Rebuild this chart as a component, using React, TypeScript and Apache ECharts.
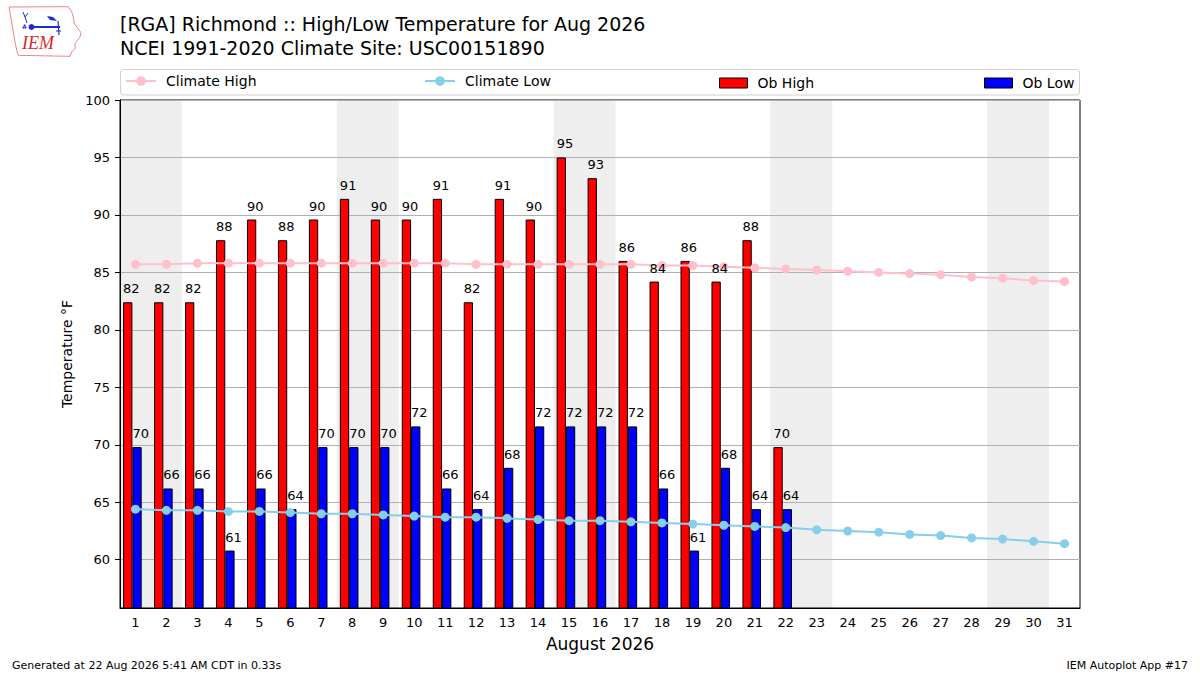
import { useEffect, useRef } from 'react';
import * as echarts from 'echarts';

const FONT = '"DejaVu Sans", sans-serif';

const dayLabels = [
  '1', '2', '3', '4', '5', '6', '7', '8', '9', '10', '11', '12', '13', '14', '15', '16',
  '17', '18', '19', '20', '21', '22', '23', '24', '25', '26', '27', '28', '29', '30', '31',
];

// observed values (whole degrees C converted to F), only through the 22nd
const obHigh = [
  82.4, 82.4, 82.4, 87.8, 89.6, 87.8, 89.6, 91.4, 89.6, 89.6, 91.4,
  82.4, 91.4, 89.6, 95.0, 93.2, 86.0, 84.2, 86.0, 84.2, 87.8, 69.8,
];
const obLow = [
  69.8, 66.2, 66.2, 60.8, 66.2, 64.4, 69.8, 69.8, 69.8, 71.6, 66.2,
  64.4, 68.0, 71.6, 71.6, 71.6, 71.6, 66.2, 60.8, 68.0, 64.4, 64.4,
];

const climateHigh = [
  85.7, 85.7, 85.8, 85.8, 85.8, 85.8, 85.8, 85.8, 85.8, 85.8, 85.8,
  85.7, 85.7, 85.7, 85.7, 85.7, 85.7, 85.6, 85.6, 85.5, 85.4, 85.3,
  85.2, 85.1, 85.0, 84.9, 84.8, 84.6, 84.5, 84.3, 84.2,
];
const climateLow = [
  64.4, 64.3, 64.3, 64.2, 64.2, 64.1, 64.0, 64.0, 63.9, 63.8, 63.7,
  63.7, 63.6, 63.5, 63.4, 63.4, 63.3, 63.2, 63.1, 63.0, 62.9, 62.8,
  62.6, 62.5, 62.4, 62.2, 62.1, 61.9, 61.8, 61.6, 61.4,
];

// weekend (Sat, Sun) day pairs
const weekends = [
  [1, 2],
  [8, 9],
  [15, 16],
  [22, 23],
  [29, 30],
];

const yTicks = [60, 65, 70, 75, 80, 85, 90, 95, 100];
const Y_MIN = 55.8;
const Y_MAX = 100;

const IOWA =
  'M9 7 L68.3 6.7 L71.7 12 L73.3 17 L74.3 23.7 L78 28.7 L81 32.7 L80 37 L76.7 41.3 L75 43.7 L75 48.7 L71.7 52 L70 56.3 L18.3 55.3 L16.7 50.3 L15 42 L13.3 32 L11 18.7 Z';

export default function App() {
  const chartRef = useRef<HTMLDivElement>(null);

  useEffect(() => {
    if (!chartRef.current) return;
    echarts.graphic.registerShape('iowa', echarts.graphic.extendPath(IOWA, {}));
    const chart = echarts.init(chartRef.current, null, { renderer: 'svg' });

    const pad = (arr: number[]) => dayLabels.map((_, i) => (i < arr.length ? arr[i] : null));

    const barLabel = {
      show: true,
      position: [0, -7],
      align: 'left',
      verticalAlign: 'bottom',
      color: '#000',
      fontSize: 13,
      fontFamily: FONT,
      formatter: (p: any) => String(Math.round(p.value)),
    };

    const legendBase = {
      padding: 0,
      itemGap: 0,
      selectedMode: false,
      textStyle: { fontSize: 14, color: '#000', fontFamily: FONT, padding: [0, 0, 0, 5] },
    };

    // the bars sit a little left of the day ticks, so they get their own grid
    const barGrid = { left: 116.9, right: 123.1, top: 100, bottom: 67 };

    const option = {
      animation: false,
      backgroundColor: '#fff',
      textStyle: { fontFamily: FONT },
      title: {
        left: 120,
        top: 12,
        text: '[RGA] Richmond :: High/Low Temperature for Aug 2026\nNCEI 1991-2020 Climate Site: USC00151890',
        textStyle: { fontSize: 19, fontWeight: 'normal', color: '#000', lineHeight: 24, fontFamily: FONT },
        padding: 0,
      },
      legend: [
        { ...legendBase, top: 74, left: 125, data: ['Climate High'], itemWidth: 30, itemHeight: 12 },
        { ...legendBase, top: 74, left: 424, data: ['Climate Low'], itemWidth: 30, itemHeight: 12 },
        {
          ...legendBase, top: 76, left: 719, data: ['Ob High'], itemWidth: 28, itemHeight: 10, icon: 'rect',
          itemStyle: { borderColor: '#000', borderWidth: 1 },
        },
        {
          ...legendBase, top: 76, left: 984, data: ['Ob Low'], itemWidth: 28, itemHeight: 10, icon: 'rect',
          itemStyle: { borderColor: '#000', borderWidth: 1 },
        },
      ],
      grid: [
        { left: 120, right: 120, top: 100, bottom: 67, show: true, borderColor: '#000', borderWidth: 1, backgroundColor: 'transparent' },
        barGrid,
        barGrid,
      ],
      xAxis: [
        {
          type: 'category',
          gridIndex: 0,
          data: dayLabels,
          boundaryGap: true,
          name: 'August 2026',
          nameLocation: 'middle',
          nameGap: 27,
          nameTextStyle: { fontSize: 17, color: '#000', fontFamily: FONT },
          axisLine: { lineStyle: { color: '#000', width: 1 } },
          axisTick: { alignWithLabel: true, interval: 0, length: 5, lineStyle: { color: '#000' } },
          axisLabel: { interval: 0, margin: 8, fontSize: 13, color: '#000', fontFamily: FONT },
          splitLine: { show: false },
        },
        { type: 'value', gridIndex: 0, min: 0.5, max: 31.5, show: false },
        { type: 'category', gridIndex: 1, data: dayLabels, show: false },
        { type: 'category', gridIndex: 2, data: dayLabels, show: false },
      ],
      yAxis: [
        {
          type: 'value',
          gridIndex: 0,
          min: Y_MIN,
          max: Y_MAX,
          name: 'Temperature °F',
          nameLocation: 'middle',
          nameGap: 41,
          nameTextStyle: { fontSize: 14, color: '#000', fontFamily: FONT },
          axisLine: { show: true, lineStyle: { color: '#000', width: 1 } },
          axisTick: { show: true, length: 5, customValues: yTicks, lineStyle: { color: '#000' } },
          axisLabel: { customValues: yTicks, margin: 10, fontSize: 13, color: '#000', fontFamily: FONT },
          splitLine: { show: true, lineStyle: { color: '#b0b0b0', width: 1 } },
        },
        { type: 'value', gridIndex: 1, min: Y_MIN, max: Y_MAX, show: false, splitLine: { show: false } },
        { type: 'value', gridIndex: 2, min: Y_MIN, max: Y_MAX, show: false, splitLine: { show: false } },
      ],
      series: [
        {
          name: 'weekend',
          type: 'custom',
          xAxisIndex: 1,
          yAxisIndex: 0,
          z: -1,
          silent: true,
          data: weekends,
          renderItem: (params: any, api: any) => {
            const x0 = api.coord([api.value(0) - 0.5, Y_MAX])[0];
            const x1 = api.coord([api.value(1) + 0.5, Y_MAX])[0];
            const cs = params.coordSys;
            return {
              type: 'rect',
              shape: { x: x0, y: cs.y, width: x1 - x0, height: cs.height },
              style: { fill: '#eeeeee' },
            };
          },
        },
        {
          name: 'Ob High',
          type: 'bar',
          xAxisIndex: 2,
          yAxisIndex: 1,
          data: pad(obHigh),
          barWidth: 9.3,
          barGap: '0%',
          itemStyle: { color: '#ff0000', borderColor: '#000', borderWidth: 1 },
        },
        {
          name: 'Ob Low',
          type: 'bar',
          xAxisIndex: 2,
          yAxisIndex: 1,
          data: pad(obLow),
          barWidth: 9.3,
          barGap: '0%',
          itemStyle: { color: '#0000ff', borderColor: '#000', borderWidth: 1 },
        },
        {
          name: 'Climate High',
          type: 'line',
          xAxisIndex: 0,
          yAxisIndex: 0,
          z: 3,
          data: climateHigh,
          symbol: 'circle',
          symbolSize: 9,
          lineStyle: { color: '#ffc0cb', width: 2 },
          itemStyle: { color: '#ffc0cb' },
        },
        {
          name: 'Climate Low',
          type: 'line',
          xAxisIndex: 0,
          yAxisIndex: 0,
          z: 3,
          data: climateLow,
          symbol: 'circle',
          symbolSize: 9,
          lineStyle: { color: '#87ceeb', width: 2 },
          itemStyle: { color: '#87ceeb' },
        },
        // value labels drawn above the climate lines
        {
          name: 'Ob High label',
          type: 'bar',
          xAxisIndex: 3,
          yAxisIndex: 2,
          z: 5,
          silent: true,
          data: pad(obHigh),
          barWidth: 9.3,
          barGap: '0%',
          itemStyle: { color: 'transparent', borderWidth: 0 },
          label: barLabel,
        },
        {
          name: 'Ob Low label',
          type: 'bar',
          xAxisIndex: 3,
          yAxisIndex: 2,
          z: 5,
          silent: true,
          data: pad(obLow),
          barWidth: 9.3,
          barGap: '0%',
          itemStyle: { color: 'transparent', borderWidth: 0 },
          label: barLabel,
        },
      ],
      graphic: [
        {
          type: 'rect',
          z: -2,
          shape: { x: 120.5, y: 69.5, width: 959, height: 25.5, r: 3 },
          style: { fill: '#fff', stroke: '#d0d0d0', lineWidth: 1 },
        },
        // IEM logo
        { type: 'iowa', x: 0, y: 0, style: { fill: 'none', stroke: '#e87878', lineWidth: 0.9 } },
        { type: 'line', shape: { x1: 30, y1: 27, x2: 60, y2: 27 }, style: { stroke: '#1e2ad6', lineWidth: 2 } },
        { type: 'circle', shape: { cx: 31.5, cy: 27, r: 3 }, style: { fill: '#1e2ad6' } },
        { type: 'polyline', shape: { points: [[23, 12], [25, 17], [28, 13]] }, style: { stroke: '#1e2ad6', lineWidth: 1, fill: 'none' } },
        { type: 'line', shape: { x1: 25, y1: 17, x2: 27, y2: 23 }, style: { stroke: '#1e2ad6', lineWidth: 1 } },
        { type: 'circle', shape: { cx: 25.5, cy: 27.5, r: 1 }, style: { fill: '#1e2ad6' } },
        { type: 'circle', shape: { cx: 23.5, cy: 27.5, r: 1 }, style: { fill: '#1e2ad6' } },
        { type: 'circle', shape: { cx: 24.5, cy: 25.5, r: 1 }, style: { fill: '#1e2ad6' } },
        { type: 'polygon', shape: { points: [[47, 16], [53, 17], [57, 21], [50, 20]] }, style: { fill: '#1e2ad6' } },
        { type: 'line', shape: { x1: 58, y1: 21, x2: 59, y2: 35 }, style: { stroke: '#1e2ad6', lineWidth: 1.2 } },
        { type: 'line', shape: { x1: 56, y1: 31, x2: 61, y2: 31 }, style: { stroke: '#1e2ad6', lineWidth: 1 } },
        {
          type: 'text',
          x: 38,
          y: 43,
          style: {
            text: 'IEM',
            fill: '#d42a2a',
            font: 'italic 18px "Liberation Serif", "DejaVu Serif", serif',
            align: 'center',
            verticalAlign: 'middle',
          },
        },
        // footer
        {
          type: 'text',
          x: 12,
          y: 665,
          style: { text: 'Generated at 22 Aug 2026 5:41 AM CDT in 0.33s', fill: '#000', font: `11px ${FONT}`, verticalAlign: 'middle' },
        },
        {
          type: 'text',
          x: 1188,
          y: 665,
          style: { text: 'IEM Autoplot App #17', fill: '#000', font: `11px ${FONT}`, align: 'right', verticalAlign: 'middle' },
        },
      ],
    };

    chart.setOption(option as any);

    const handleResize = () => {
      chart.resize();
    };
    window.addEventListener('resize', handleResize);

    return () => {
      window.removeEventListener('resize', handleResize);
      chart.dispose();
    };
  }, []);

  return (
    <div
      ref={chartRef}
      style={{ position: 'fixed', left: 0, top: 0, width: '1200px', height: '675px', background: '#fff' }}
    />
  );
}
